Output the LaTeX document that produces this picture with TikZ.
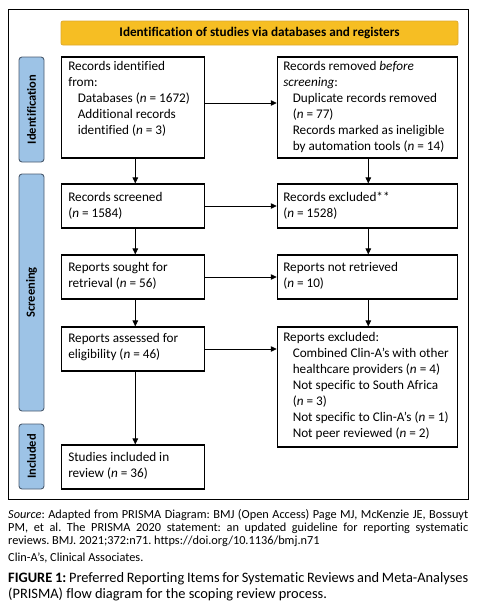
\documentclass[tikz,border=0pt]{standalone}
\usepackage{fontspec}
\setmainfont{Carlito}[Ligatures=NoCommon]
\usetikzlibrary{arrows.meta,calc}
\definecolor{hdrfill}{RGB}{246,190,35}
\definecolor{hdrline}{RGB}{222,170,45}
\definecolor{barfill}{RGB}{157,195,230}
\definecolor{barline}{RGB}{75,92,112}
\newcommand{\tst}{\rule{0pt}{10pt}}
\newcommand{\ind}{\hspace*{9.5pt}}
\newcommand{\nn}{\textit{n}}
\newcommand{\tightsp}{\spaceskip=0.226em plus 0.3em minus 0.13em\relax}
\frenchspacing
\begin{document}
\begin{tikzpicture}[x=1pt,y=-1pt,
  boxnode/.style={draw=black,line width=1.1pt,inner sep=0pt,fill=white},
  txt/.style={anchor=north west,inner sep=0pt,align=left,font=\fontsize{13.2}{16}\selectfont},
  barnode/.style={draw=barline,line width=0.9pt,fill=barfill,rounded corners=3pt,minimum width=25pt,inner sep=0pt},
  bartxt/.style={rotate=90,font=\bfseries\fontsize{12.5}{14}\selectfont,inner sep=0pt},
  arr/.style={line width=0.8pt,-{Triangle[length=6pt,width=5.5pt]}},
  captxt/.style={anchor=north west,inner sep=0pt,text width=460pt,align=justify}
]
\useasboundingbox (0,0) rectangle (483,608);
\node[draw=black,line width=0.9pt,minimum width=460pt,minimum height=489.5pt,inner sep=0pt] (frame) at (238,254.25) {};

\node[draw=hdrline,line width=0.8pt,fill=hdrfill,rounded corners=2pt,minimum width=397pt,minimum height=24pt,inner sep=0pt,font=\bfseries\fontsize{13.2}{16}\selectfont] (hdr) at (259.5,33) {Identification of studies via databases and registers};

\node[barnode,minimum height=105pt] (bar1) at (31.5,109.5) {};
\node[bartxt] (bar1t) at (bar1.center) {Identification};
\node[barnode,minimum height=237pt] (bar2) at (31.5,292.5) {};
\node[bartxt] (bar2t) at (bar2.center) {Screening};
\node[barnode,minimum height=65pt] (bar3) at (31.5,456.5) {};
\node[bartxt] (bar3t) at (bar3.center) {Included};

\node[boxnode,minimum width=143pt,minimum height=101pt] (b1) at (132.8,107.5) {};
\node[boxnode,minimum width=180.4pt,minimum height=101pt] (b2) at (367.5,107.5) {};
\node[boxnode,minimum width=143pt,minimum height=44pt] (b3) at (132.8,206) {};
\node[boxnode,minimum width=180.4pt,minimum height=44pt] (b4) at (367.5,206) {};
\node[boxnode,minimum width=143pt,minimum height=44pt] (b5) at (132.8,277) {};
\node[boxnode,minimum width=180.4pt,minimum height=44pt] (b6) at (367.5,277) {};
\node[boxnode,minimum width=143pt,minimum height=44pt] (b7) at (132.8,349) {};
\node[boxnode,minimum width=180.4pt,minimum height=120pt] (b8) at (367.5,387) {};
\node[boxnode,minimum width=143pt,minimum height=44pt] (b9) at (132.8,467) {};

\node[txt] (t1) at ($(b1.north west)+(7.3,4)$) {\tst Records identified\\from:\\\ind Databases (\nn{} = 1672)\\\ind Additional records\\\ind identified (\nn{} = 3)};
\node[txt] (t2) at ($(b2.north west)+(6.3,3.5)$) {\tst Records removed \textit{before}\\\textit{screening}:\\\ind Duplicate records removed\\\ind (\nn{} = 77)\\\ind Records marked as ineligible\\\ind by automation tools (\nn{} = 14)};
\node[txt] (t3) at ($(b3.north west)+(7.3,7.5)$) {\tst Records screened\\(\nn{} = 1584)};
\node[txt] (t4) at ($(b4.north west)+(6.3,7.5)$) {\tst Records excluded**\\(\nn{} = 1528)};
\node[txt] (t5) at ($(b5.north west)+(7.3,7)$) {\tst Reports sought for\\retrieval (\nn{} = 56)};
\node[txt] (t6) at ($(b6.north west)+(6.3,7)$) {\tst Reports not retrieved\\(\nn{} = 10)};
\node[txt] (t7) at ($(b7.north west)+(7.3,6)$) {\tst Reports assessed for\\eligibility (\nn{} = 46)};
\node[txt] (t8) at ($(b8.north west)+(6.3,4.5)$) {\tst Reports excluded:\\\ind Combined Clin-A’s with other\\\ind healthcare providers (\nn{} = 4)\\\ind Not specific to South Africa\\\ind (\nn{} = 3)\\\ind Not specific to Clin-A’s (\nn{} = 1)\\\ind Not peer reviewed (\nn{} = 2)};
\node[txt] (t9) at ($(b9.north west)+(7.3,7)$) {\tst Studies included in\\review (\nn{} = 36)};

\draw[arr] ($(b1.east)+(0,-4.5)$) -- ($(b1.east -| b2.west)+(0,-4.5)$);
\draw[arr] (b3.east) -- (b4.west);
\draw[arr] (b5.east) -- (b6.west);
\draw[arr] (b7.east) -- (b7.east -| b8.west);
\draw[arr] ($(b1.south)+(2.5,0)$) -- ($(b3.north)+(2.5,0)$);
\draw[arr] ($(b3.south)+(2.5,0)$) -- ($(b5.north)+(2.5,0)$);
\draw[arr] ($(b5.south)+(2.5,0)$) -- ($(b7.north)+(2.5,0)$);
\draw[arr] ($(b7.south)+(2.5,0)$) -- ($(b9.north)+(2.5,0)$);
\draw[arr] ($(b2.south)+(0.8,0)$) -- ($(b4.north)+(0.8,0)$);
\draw[arr] ($(b4.south)+(0.8,0)$) -- ($(b6.north)+(0.8,0)$);
\draw[arr] ($(b6.south)+(0.8,0)$) -- ($(b8.north)+(0.8,0)$);

\node[captxt,font=\fontsize{12.3}{13}\selectfont] (src) at (8,508) {\tightsp\tst\textit{Source}: Adapted from PRISMA Diagram: BMJ (Open Access) Page MJ, McKenzie JE, Bossuyt\linebreak PM, et al. The PRISMA 2020 statement: an updated guideline for reporting systematic\linebreak reviews. BMJ. 2021;372:n71. https://doi.org/10.1136/bmj.n71};
\node[captxt,font=\fontsize{12.3}{13}\selectfont] (abbr) at (8,551.5) {\tst Clin-A’s, Clinical Associates.};
\node[captxt,font=\fontsize{14.4}{16}\selectfont] (cap) at (8,572) {\tightsp\tst\textbf{FIGURE 1:} Preferred Reporting Items for Systematic Reviews and Meta-Analyses\linebreak (PRISMA) flow diagram for the scoping review process.};
\end{tikzpicture}
\end{document}
